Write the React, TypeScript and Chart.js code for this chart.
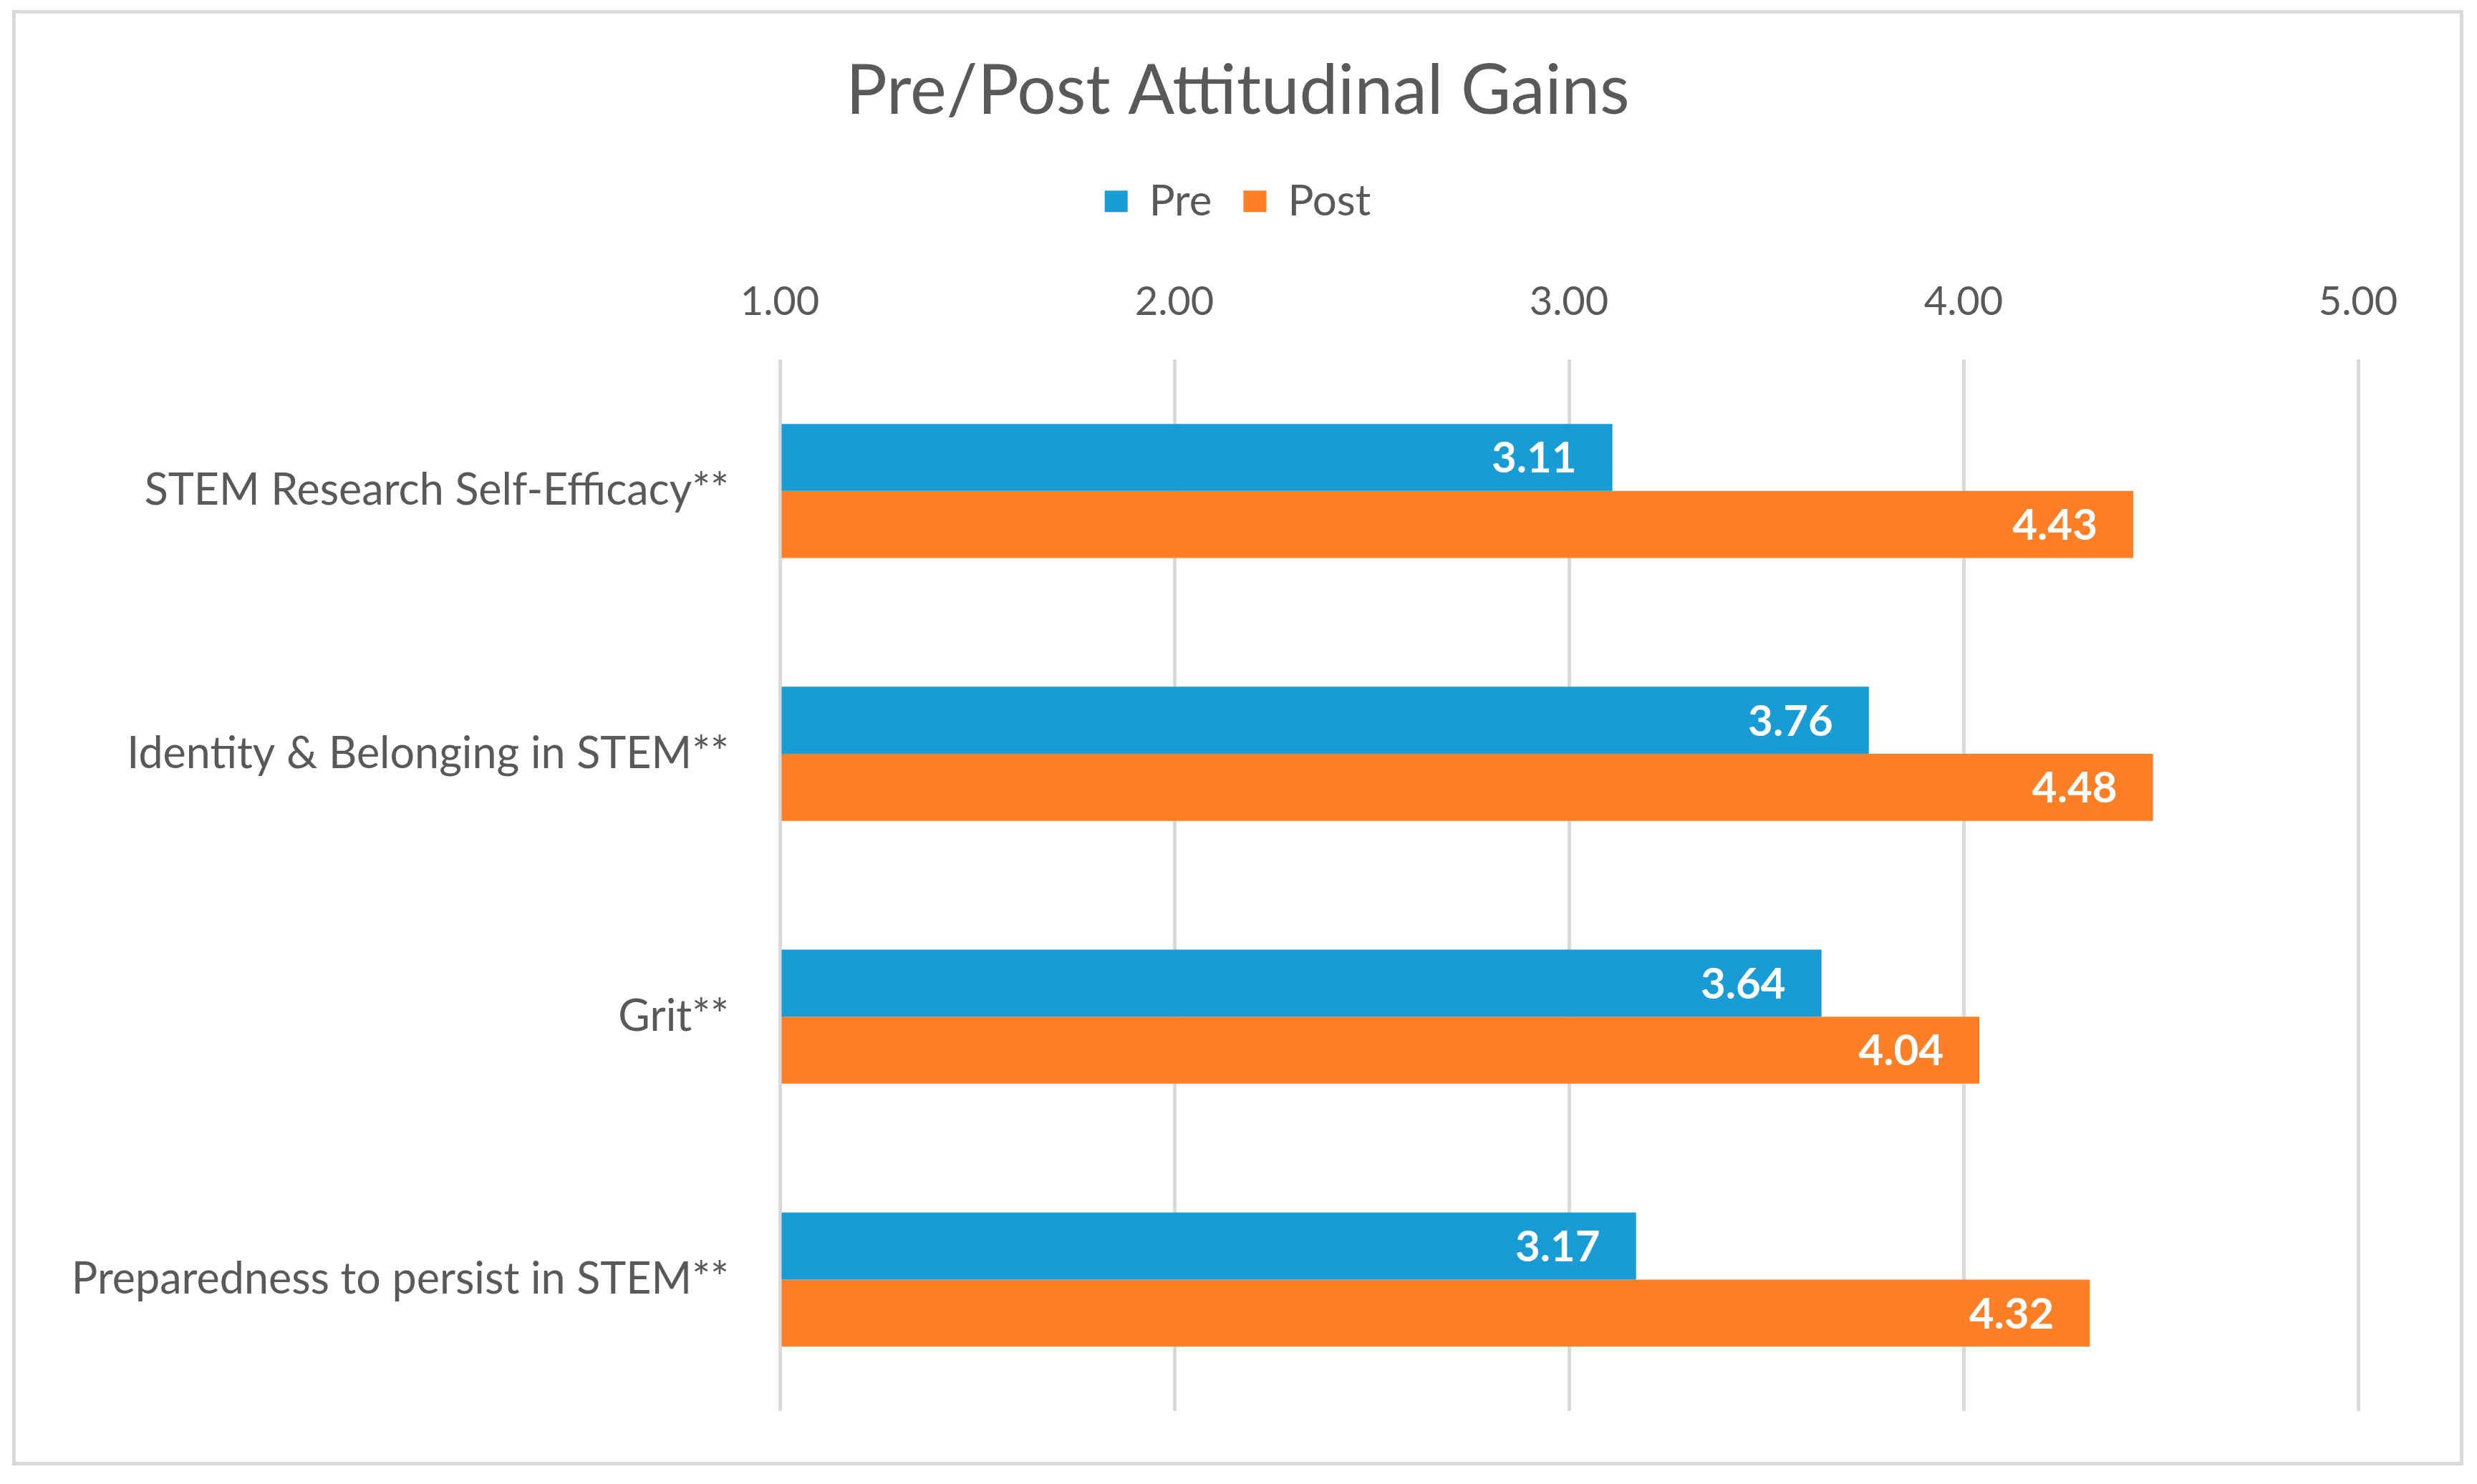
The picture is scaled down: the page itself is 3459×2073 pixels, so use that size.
import React, { useEffect, useRef } from "react";
import { Chart, registerables } from "chart.js";

Chart.register(...registerables);

const categories = [
  "STEM Research Self-Efficacy**",
  "Identity & Belonging in STEM**",
  "Grit**",
  "Preparedness to persist in STEM**",
];
const preValues = [3.11, 3.76, 3.64, 3.17];
const postValues = [4.43, 4.48, 4.04, 4.32];
const seriesNames = ["Pre", "Post"];
const titleText = "Pre/Post Attitudinal Gains";

const BLUE = "#199BD6";
const ORANGE = "#FF7F27";
const TEXT = "#595959";
const GRID = "#D9D9D9";
const FONT = "Lato, 'Open Sans', sans-serif";

const valueLabels = {
  id: "valueLabels",
  afterDatasetsDraw(chart: any) {
    const ctx = chart.ctx;
    ctx.save();
    ctx.font = `bold 60px ${FONT}`;
    ctx.fillStyle = "#FFFFFF";
    ctx.textAlign = "right";
    ctx.textBaseline = "middle";
    chart.data.datasets.forEach((ds: any, di: number) => {
      const meta = chart.getDatasetMeta(di);
      meta.data.forEach((bar: any, i: number) => {
        const v = ds.data[i] as number;
        ctx.fillText(v.toFixed(2), bar.x - 50, bar.y + 2);
      });
    });
    ctx.restore();
  },
};

export default function App() {
  const ref = useRef<HTMLCanvasElement | null>(null);

  useEffect(() => {
    if (!ref.current) return;
    const chart = new Chart(ref.current, {
      type: "bar",
      data: {
        labels: categories,
        datasets: [
          {
            label: seriesNames[0],
            data: preValues,
            backgroundColor: BLUE,
            borderWidth: 0,
            base: 1,
          } as any,
          {
            label: seriesNames[1],
            data: postValues,
            backgroundColor: ORANGE,
            borderWidth: 0,
            base: 1,
          } as any,
        ],
      },
      options: {
        indexAxis: "y",
        animation: false,
        responsive: true,
        maintainAspectRatio: false,
        layout: { padding: { left: 0, right: 0, top: 0, bottom: 71 } },
        datasets: {
          bar: { categoryPercentage: 0.51, barPercentage: 1.0 },
        },
        plugins: {
          title: {
            display: true,
            text: titleText,
            color: TEXT,
            font: { family: FONT, size: 96, weight: "normal" },
            padding: { top: 51, bottom: 22 },
          },
          legend: {
            display: true,
            position: "top",
            labels: {
              color: TEXT,
              font: { family: FONT, size: 60 },
              boxWidth: 32,
              boxHeight: 30,
              padding: 44,
            },
          },
          tooltip: { enabled: false },
        },
        scales: {
          x: {
            type: "linear",
            position: "top",
            min: 1,
            max: 5,
            ticks: {
              stepSize: 1,
              color: TEXT,
              font: { family: FONT, size: 56 },
              padding: 47,
              callback: (v: any) => Number(v).toFixed(2),
            },
            grid: { color: GRID, lineWidth: 5, drawTicks: false },
            border: { display: false },
            afterFit: (s: any) => {
              s.height = 181;
            },
          },
          y: {
            type: "category",
            position: "left",
            ticks: {
              color: TEXT,
              font: { family: FONT, size: 61 },
              padding: 0,
            },
            grid: { display: false, drawTicks: true, tickLength: 71 },
            border: { display: false },
            afterFit: (s: any) => {
              s.width = 1067;
            },
          },
          yRight: {
            type: "category",
            position: "right",
            labels: categories,
            ticks: { display: false },
            grid: { display: false, drawTicks: false },
            border: { display: false },
            afterFit: (s: any) => {
              s.width = 142;
            },
          },
        },
      },
      plugins: [valueLabels],
    });
    return () => chart.destroy();
  }, []);

  return (
    <div
      style={{
        position: "fixed",
        left: 0,
        top: 0,
        width: 3459,
        height: 2073,
        background: "#FFFFFF",
      }}
    >
      <div
        style={{
          position: "absolute",
          left: 17,
          top: 14,
          width: 3413,
          height: 2023,
          border: `5px solid ${GRID}`,
        }}
      >
        <canvas ref={ref} />
      </div>
    </div>
  );
}
